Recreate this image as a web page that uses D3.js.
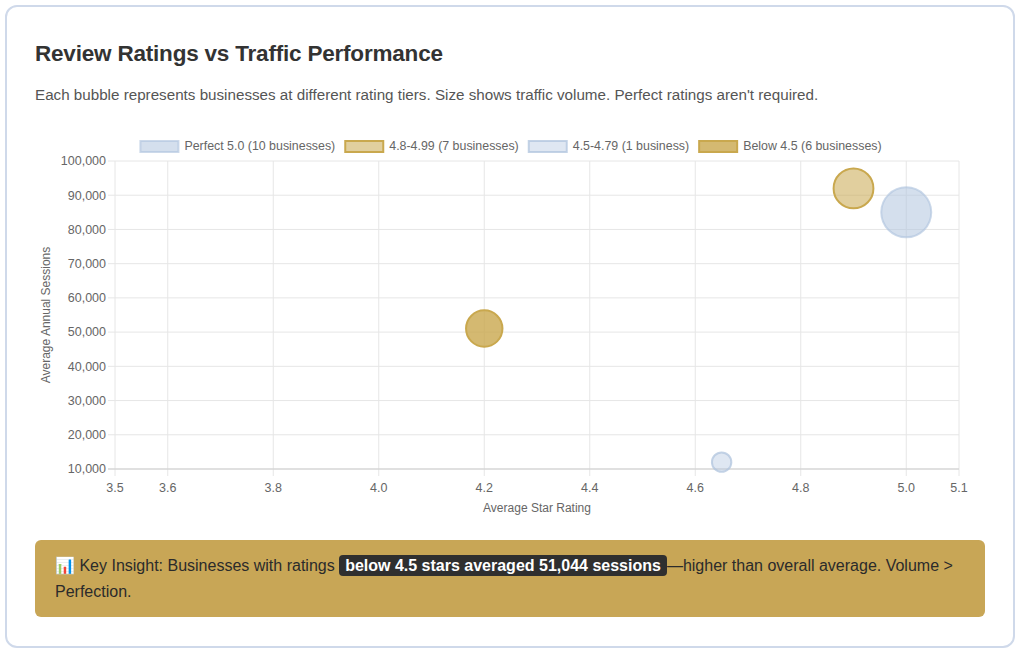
<!DOCTYPE html>
<html>
<head>
<meta charset="utf-8">
<script src="https://cdn.jsdelivr.net/npm/d3@7"></script>
<style>
  html, body { margin: 0; padding: 0; background: #fff; }
  body { width: 1024px; height: 657px; position: relative; overflow: hidden;
         font-family: "Liberation Sans", Arial, sans-serif; color: #333; }
  .card { position: absolute; left: 5px; top: 5px; width: 1006px; height: 639px;
          border: 2px solid #cfd9ea; border-radius: 12px; background: #fff; }
  h2 { position: absolute; left: 35px; top: 41px; margin: 0; font-size: 22.5px;
       font-weight: bold; color: #333; letter-spacing: -0.2px; }
  .sub { position: absolute; left: 35px; top: 86px; margin: 0; font-size: 15.2px; color: #555; }
  .insight { position: absolute; left: 35px; top: 540px; width: 950px; height: 77px;
             box-sizing: border-box; padding: 13px 20px; background: #c8a656;
             border-radius: 6px; font-size: 16px; line-height: 26px; color: #2b2b2b; }
  .insight b { background: #2f2f2f; color: #fff; padding: 2px 6px; border-radius: 4px; }
  svg { position: absolute; left: 0; top: 0; }
</style>
</head>
<body>
<div class="card"></div>
<h2>Review Ratings vs Traffic Performance</h2>
<p class="sub">Each bubble represents businesses at different rating tiers. Size shows traffic volume. Perfect ratings aren't required.</p>
<div id="chart"></div>
<div class="insight">📊 Key Insight: Businesses with ratings <b>below 4.5 stars averaged 51,044 sessions</b>—higher than overall average. Volume &gt; Perfection.</div>
<script>
/* Rating tiers, one bubble each */
var tiers = ["Perfect 5.0 (10 businesses)", "4.8-4.99 (7 businesses)",
             "4.5-4.79 (1 business)", "Below 4.5 (6 businesses)"];
var ratings = [5.0, 4.9, 4.65, 4.2];
var sessions = [85000, 92000, 12000, 51044];
var businesses = [10, 7, 1, 6];

var xTicks = [3.5, 3.6, 3.8, 4.0, 4.2, 4.4, 4.6, 4.8, 5.0, 5.1];
var yTicks = [10000, 20000, 30000, 40000, 50000, 60000, 70000, 80000, 90000, 100000];

var fills = ["rgba(176,196,222,0.55)", "rgba(201,168,78,0.55)",
             "rgba(176,196,222,0.4)", "rgba(201,168,78,0.8)"];
var strokes = ["rgba(176,196,222,0.65)", "#c9a84e", "rgba(176,196,222,0.75)", "#c9a84e"];

var data = tiers.map(function(t, i) {
  return {tier: t, rating: ratings[i], sessions: sessions[i], n: businesses[i], i: i};
});

var svg = d3.select("#chart").append("svg")
    .attr("width", 1024)
    .attr("height", 657);

var plotL = 115, plotR = 959, plotT = 161, plotB = 469;

var x = d3.scaleLinear().domain([3.5, 5.1]).range([plotL, plotR]);
var y = d3.scaleLinear().domain([10000, 100000]).range([plotB, plotT]);
var r = d3.scaleLinear().domain([0, 10]).range([8, 25]);

/* grid */
svg.append("g").selectAll("line")
    .data(xTicks)
  .enter().append("line")
    .attr("x1", function(d) { return x(d); })
    .attr("x2", function(d) { return x(d); })
    .attr("y1", plotT).attr("y2", plotB + 7)
    .attr("stroke", "#e6e6e6").attr("stroke-width", 1);

svg.append("g").selectAll("line")
    .data(yTicks)
  .enter().append("line")
    .attr("y1", function(d) { return y(d); })
    .attr("y2", function(d) { return y(d); })
    .attr("x1", plotL - 7).attr("x2", plotR)
    .attr("stroke", function(d) { return d === 10000 ? "#d6d6d6" : "#e6e6e6"; })
    .attr("stroke-width", function(d) { return d === 10000 ? 1.5 : 1; });

/* tick labels */
var fmt = d3.format(",");
svg.append("g").selectAll("text")
    .data(yTicks)
  .enter().append("text")
    .attr("x", plotL - 9)
    .attr("y", function(d) { return y(d); })
    .attr("dy", "0.35em")
    .attr("text-anchor", "end")
    .attr("font-size", 12.5)
    .attr("fill", "#666")
    .text(function(d) { return fmt(d); });

svg.append("g").selectAll("text")
    .data(xTicks)
  .enter().append("text")
    .attr("x", function(d) { return x(d); })
    .attr("y", plotB + 23)
    .attr("text-anchor", "middle")
    .attr("font-size", 12.5)
    .attr("fill", "#666")
    .text(function(d) { return d.toFixed(1); });

/* axis titles */
svg.append("text")
    .attr("x", (plotL + plotR) / 2)
    .attr("y", 512)
    .attr("text-anchor", "middle")
    .attr("font-size", 12)
    .attr("fill", "#666")
    .text("Average Star Rating");

svg.append("text")
    .attr("transform", "translate(50," + ((plotT + plotB) / 2) + ") rotate(-90)")
    .attr("text-anchor", "middle")
    .attr("font-size", 12)
    .attr("fill", "#666")
    .text("Average Annual Sessions");

/* bubbles */
svg.append("g").selectAll("circle")
    .data(data)
  .enter().append("circle")
    .attr("cx", function(d) { return x(d.rating); })
    .attr("cy", function(d) { return y(d.sessions); })
    .attr("r", function(d) { return r(d.n); })
    .attr("fill", function(d) { return fills[d.i]; })
    .attr("stroke", function(d) { return strokes[d.i]; })
    .attr("stroke-width", 2);

/* legend, centred on the chart canvas */
var legend = svg.append("g");
var items = legend.selectAll("g")
    .data(data)
  .enter().append("g");
items.append("rect")
    .attr("x", 1).attr("y", -5).attr("width", 38).attr("height", 11)
    .attr("fill", function(d) { return fills[d.i]; })
    .attr("stroke", function(d) { return strokes[d.i]; })
    .attr("stroke-width", 2);
items.append("text")
    .attr("x", 45).attr("dy", "0.35em")
    .attr("font-size", 12.4)
    .attr("fill", "#666")
    .text(function(d) { return d.tier; });
var offset = 0;
items.each(function() {
  var w = this.getBBox().width;
  d3.select(this).attr("transform", "translate(" + offset + ",146)");
  offset += w + 10;
});
legend.attr("transform", "translate(" + (510 - (offset - 10) / 2) + ",0)");
</script>
</body>
</html>
